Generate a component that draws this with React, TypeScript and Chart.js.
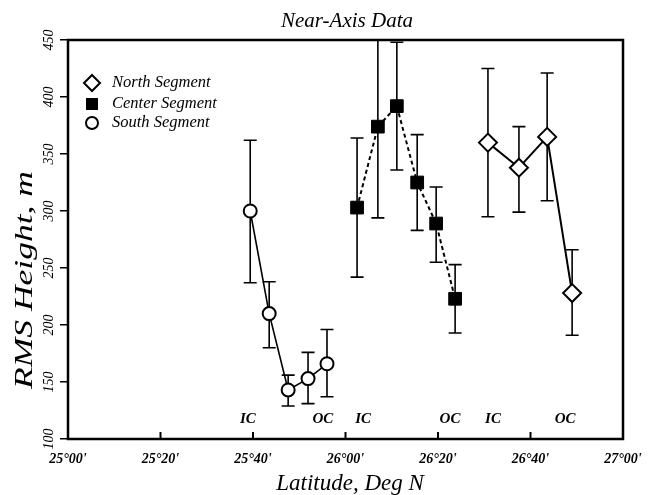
import React, { useEffect, useRef } from 'react';
import { Chart, registerables } from 'chart.js';

Chart.register(...registerables);

// Latitude in minutes north of 25°00'
const xTickValues = [0, 20, 40, 60, 80, 100, 120];
const xTickLabels = ["25°00'", "25°20'", "25°40'", "26°00'", "26°20'", "26°40'", "27°00'"];

const southLat = [39.4, 43.5, 47.6, 51.9, 56.0];
const southRms = [300, 210, 143, 153, 166];
const southLow = [237, 180, 129, 131, 137];
const southHigh = [362, 238, 156, 176, 196];

const centerLat = [62.5, 67.0, 71.1, 75.5, 79.6, 83.7];
const centerRms = [303, 374, 392, 325, 289, 223];
const centerLow = [242, 294, 336, 283, 255, 193];
const centerHigh = [364, 470, 448, 367, 321, 253];

const northLat = [90.8, 97.5, 103.6, 109.0];
const northRms = [360, 338, 365, 228];
const northLow = [295, 299, 309, 191];
const northHigh = [425, 374, 421, 266];

const zoneLabels = ['IC', 'OC', 'IC', 'OC', 'IC', 'OC'];
const zoneLat = [38.9, 55.1, 63.8, 82.6, 91.9, 107.5];
const zoneRms = 117;

const legendLabels = ['North Segment', 'Center Segment', 'South Segment'];

const FAMILY = '"Liberation Serif", "Times New Roman", serif';

const errorSets = [
  { lat: southLat, low: southLow, high: southHigh },
  { lat: centerLat, low: centerLow, high: centerHigh },
  { lat: northLat, low: northLow, high: northHigh },
];

const toPoints = (xs: number[], ys: number[]) => xs.map((x, i) => ({ x, y: ys[i] }));

const decor = {
  id: 'decor',
  beforeDatasetsDraw(chart: any) {
    const { ctx, chartArea, scales } = chart;
    const x = scales.x;
    const y = scales.y;
    ctx.save();
    ctx.beginPath();
    ctx.rect(chartArea.left, chartArea.top, chartArea.right - chartArea.left, chartArea.bottom - chartArea.top);
    ctx.clip();
    ctx.strokeStyle = '#000';
    ctx.lineWidth = 1.6;
    const cap = 6.5;
    errorSets.forEach((s) => {
      s.lat.forEach((lat, i) => {
        const px = x.getPixelForValue(lat);
        const lo = y.getPixelForValue(s.low[i]);
        const hi = y.getPixelForValue(s.high[i]);
        ctx.beginPath();
        ctx.moveTo(px, lo);
        ctx.lineTo(px, hi);
        ctx.moveTo(px - cap, lo);
        ctx.lineTo(px + cap, lo);
        ctx.moveTo(px - cap, hi);
        ctx.lineTo(px + cap, hi);
        ctx.stroke();
      });
    });
    ctx.restore();
  },
  afterDraw(chart: any) {
    const { ctx, chartArea, scales } = chart;
    const x = scales.x;
    const y = scales.y;
    ctx.save();
    // frame
    ctx.strokeStyle = '#000';
    ctx.lineWidth = 2.5;
    ctx.strokeRect(chartArea.left, chartArea.top, chartArea.right - chartArea.left, chartArea.bottom - chartArea.top);
    // inward x ticks
    ctx.lineWidth = 2;
    xTickValues.forEach((v) => {
      const px = x.getPixelForValue(v);
      ctx.beginPath();
      ctx.moveTo(px, chartArea.bottom);
      ctx.lineTo(px, chartArea.bottom - 7);
      ctx.stroke();
    });
    // IC / OC labels
    ctx.fillStyle = '#000';
    ctx.font = `italic bold 15px ${FAMILY}`;
    ctx.textAlign = 'center';
    ctx.textBaseline = 'middle';
    zoneLabels.forEach((t, i) => {
      ctx.fillText(t, x.getPixelForValue(zoneLat[i]), y.getPixelForValue(zoneRms));
    });
    // legend
    const lx = 92;
    const rows = [83, 104, 123];
    ctx.lineWidth = 2;
    ctx.beginPath();
    ctx.moveTo(lx - 8, rows[0]);
    ctx.lineTo(lx, rows[0] - 8);
    ctx.lineTo(lx + 8, rows[0]);
    ctx.lineTo(lx, rows[0] + 8);
    ctx.closePath();
    ctx.fillStyle = '#fff';
    ctx.fill();
    ctx.stroke();
    ctx.fillStyle = '#000';
    ctx.fillRect(lx - 6, rows[1] - 6, 12, 12);
    ctx.beginPath();
    ctx.arc(lx, rows[2], 6, 0, Math.PI * 2);
    ctx.fillStyle = '#fff';
    ctx.fill();
    ctx.stroke();
    ctx.fillStyle = '#000';
    ctx.font = `italic 16.5px ${FAMILY}`;
    ctx.textAlign = 'left';
    ctx.textBaseline = 'middle';
    legendLabels.forEach((t, i) => ctx.fillText(t, 112, rows[i]));
    // title
    ctx.font = `italic 21px ${FAMILY}`;
    ctx.textAlign = 'center';
    ctx.textBaseline = 'alphabetic';
    ctx.fillText('Near-Axis Data', 347, 27);
    // x title
    ctx.font = `italic 23px ${FAMILY}`;
    ctx.fillText('Latitude, Deg N', 350, 490);
    // y title (horizontally stretched like the reference lettering)
    ctx.save();
    ctx.translate(32, 280);
    ctx.rotate(-Math.PI / 2);
    ctx.scale(1.42, 1);
    ctx.font = `italic 25px ${FAMILY}`;
    ctx.fillText('RMS Height, m', 0, 0);
    ctx.restore();
    ctx.restore();
  },
};

export default function App() {
  const ref = useRef<HTMLCanvasElement | null>(null);
  useEffect(() => {
    if (!ref.current) return;
    const chart = new Chart(ref.current, {
      type: 'scatter',
      data: {
        datasets: [
          {
            label: 'North Segment',
            data: toPoints(northLat, northRms),
            showLine: true,
            borderColor: '#000',
            borderWidth: 2,
            pointStyle: 'rectRot',
            pointRadius: 9,
            pointBorderWidth: 2,
            pointBackgroundColor: '#fff',
            pointBorderColor: '#000',
          },
          {
            label: 'Center Segment',
            data: toPoints(centerLat, centerRms),
            showLine: true,
            borderColor: '#000',
            borderWidth: 2,
            borderDash: [4, 3],
            pointStyle: 'rect',
            pointRadius: 9,
            pointBorderWidth: 1,
            pointBackgroundColor: '#000',
            pointBorderColor: '#000',
          },
          {
            label: 'South Segment',
            data: toPoints(southLat, southRms),
            showLine: true,
            borderColor: '#000',
            borderWidth: 1.6,
            pointStyle: 'circle',
            pointRadius: 6.5,
            pointBorderWidth: 2,
            pointBackgroundColor: '#fff',
            pointBorderColor: '#000',
          },
        ],
      },
      options: {
        responsive: false,
        animation: false,
        layout: { padding: { left: 8, right: 34, top: 40, bottom: 0 } },
        plugins: {
          legend: { display: false },
          title: { display: false },
          tooltip: { enabled: false },
        },
        scales: {
          x: {
            type: 'linear',
            min: 0,
            max: 120,
            afterFit: (s: any) => { s.height = 56; },
            afterBuildTicks: (s: any) => { s.ticks = xTickValues.map((v) => ({ value: v })); },
            border: { display: false },
            grid: { display: true, drawOnChartArea: false, drawTicks: false },
            ticks: {
              padding: 12,
              color: '#000',
              font: { family: FAMILY, size: 14, style: 'italic', weight: 'bold' },
              callback: (v: any) => {
                const i = xTickValues.indexOf(Number(v));
                return i >= 0 ? xTickLabels[i] : '';
              },
              maxRotation: 0,
              minRotation: 0,
            },
          },
          y: {
            type: 'linear',
            min: 100,
            max: 450,
            afterFit: (s: any) => { s.width = 60; },
            border: { display: false },
            grid: { drawOnChartArea: false, drawTicks: true, tickLength: 8, color: '#000', lineWidth: 1.5 },
            ticks: {
              stepSize: 50,
              padding: 0,
              color: '#000',
              crossAlign: 'center',
              minRotation: 90,
              maxRotation: 90,
              font: { family: FAMILY, size: 14, style: 'italic' },
            },
          },
        },
      },
      plugins: [decor],
    } as any);
    return () => chart.destroy();
  }, []);
  return (
    <div style={{ position: 'absolute', left: 0, top: 0, width: 657, height: 495 }}>
      <canvas ref={ref} width={657} height={495} style={{ width: 657, height: 495 }} />
    </div>
  );
}
